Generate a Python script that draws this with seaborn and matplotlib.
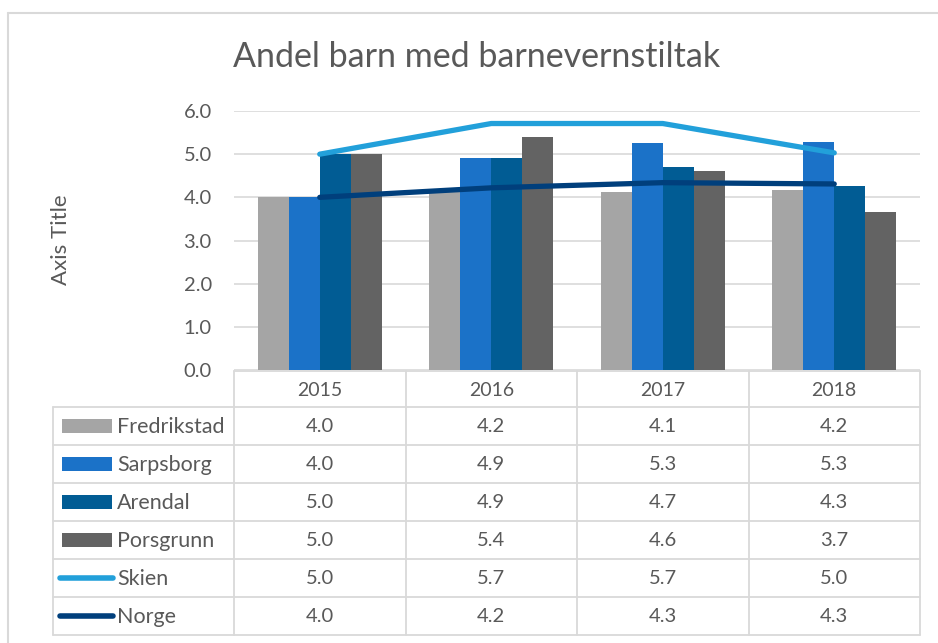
import numpy as np
import pandas as pd
import matplotlib
matplotlib.use("Agg")
import matplotlib.pyplot as plt
import seaborn as sns
from matplotlib.lines import Line2D
from matplotlib.patches import Rectangle
from matplotlib.transforms import blended_transform_factory

# ---- data ----
years = ["2015", "2016", "2017", "2018"]
bar_series = ["Fredrikstad", "Sarpsborg", "Arendal", "Porsgrunn"]
line_series = ["Skien", "Norge"]
fredrikstad = [4.0, 4.16, 4.13, 4.16]
sarpsborg = [4.0, 4.9, 5.27, 5.28]
arendal = [5.0, 4.9, 4.7, 4.26]
porsgrunn = [5.0, 5.4, 4.62, 3.66]
skien = [5.0, 5.71, 5.71, 5.03]
norge = [4.0, 4.22, 4.34, 4.31]
title = "Andel barn med barnevernstiltak"
ylabel = "Axis Title"
yticks = [0, 1, 2, 3, 4, 5, 6]

colors = {
    "Fredrikstad": "#A5A5A5",
    "Sarpsborg": "#1B72C8",
    "Arendal": "#015C94",
    "Porsgrunn": "#636363",
    "Skien": "#22A0DA",
    "Norge": "#003F7C",
}

bars_df = pd.DataFrame({
    "year": np.repeat(years, len(bar_series)),
    "series": bar_series * len(years),
    "value": [v for i in range(len(years)) for v in
              (fredrikstad[i], sarpsborg[i], arendal[i], porsgrunn[i])],
})
line_vals = {"Skien": skien, "Norge": norge}
lines_df = pd.DataFrame({
    "pos": [i for s in line_series for i in range(len(years))],
    "series": [s for s in line_series for _ in years],
    "value": [v for s in line_series for v in line_vals[s]],
})
all_vals = {"Fredrikstad": fredrikstad, "Sarpsborg": sarpsborg,
            "Arendal": arendal, "Porsgrunn": porsgrunn,
            "Skien": skien, "Norge": norge}
row_order = bar_series + line_series

sns.set_theme(style="white")
FONT = ["Lato", "DejaVu Sans"]
plt.rcParams["font.family"] = FONT
TXT = "#595959"
GRID = "#D9D9D9"

W, H = 938, 643
fig = plt.figure(figsize=(W / 100, H / 100), dpi=100)

def fx(px):
    return px / W

def fy(py):
    return 1 - py / H

ax_left, ax_right, ax_top, ax_bot = 234, 920, 111, 370
ax = fig.add_axes([fx(ax_left), fy(ax_bot), fx(ax_right - ax_left), (ax_bot - ax_top) / H])

sns.barplot(data=bars_df, x="year", y="value", hue="series", order=years,
            hue_order=bar_series, palette=colors, width=0.725, gap=0,
            saturation=1, linewidth=0, legend=False, ax=ax, zorder=2)
sns.lineplot(data=lines_df, x="pos", y="value", hue="series", hue_order=line_series,
             palette=colors, linewidth=3.8, legend=False, ax=ax, zorder=3,
             solid_capstyle="round", sort=False)

ax.set_xlim(-0.5, len(years) - 0.5)
ax.set_ylim(0, 6)
ax.set_yticks(yticks)
ax.set_yticklabels([f"{t:.1f}" for t in yticks], fontsize=14.5, color=TXT)
ax.set_xticks([])
ax.set_xlabel("")
ax.set_ylabel("")
ax.tick_params(axis="y", length=0, pad=16)
ax.grid(axis="y", color=GRID, linewidth=1.2, zorder=0)
ax.set_axisbelow(True)
for s in ax.spines.values():
    s.set_visible(False)

fig.text(fx(477), fy(57), title, ha="center", va="center", fontsize=24.5, color=TXT)
fig.text(fx(61), fy(240), ylabel, ha="center", va="center", rotation=90,
         fontsize=16, color=TXT)

# ---- data table ----
ov = fig.add_axes([0, 0, 1, 1], facecolor="none")
ov.set_xlim(0, W)
ov.set_ylim(H, 0)
ov.axis("off")
tr = blended_transform_factory(ax.transData, ov.transData)

# figure border (left and top)
ov.add_line(Line2D([8, 8], [13, H], color=GRID, lw=1.5))
ov.add_line(Line2D([8, W], [13, 13], color=GRID, lw=1.5))

tab_left = 53
head_top, head_bot = 371, 407
row_h = 38.0
row_edges = [head_bot + i * row_h for i in range(len(row_order) + 1)]
tab_bot = row_edges[-1]
ncol = len(years)

ov.add_line(Line2D([-0.5, ncol - 0.5], [head_top, head_top], color=GRID, lw=1.3, transform=tr))
for y in row_edges:
    ov.add_line(Line2D([tab_left, ax_left], [y, y], color=GRID, lw=1.3))
    ov.add_line(Line2D([-0.5, ncol - 0.5], [y, y], color=GRID, lw=1.3, transform=tr))
ov.add_line(Line2D([tab_left, tab_left], [head_bot, tab_bot], color=GRID, lw=1.3))
for i in range(ncol + 1):
    ov.add_line(Line2D([i - 0.5, i - 0.5], [head_top, tab_bot], color=GRID, lw=1.3, transform=tr))

for i, yr in enumerate(years):
    ov.text(i, (head_top + head_bot) / 2 + 1, yr, transform=tr, ha="center", va="center",
            fontsize=14, color=TXT)

for r, name in enumerate(row_order):
    yc = (row_edges[r] + row_edges[r + 1]) / 2
    if name in bar_series:
        ov.add_patch(Rectangle((62, yc - 7), 50, 14, color=colors[name], lw=0))
    else:
        ov.add_line(Line2D([60, 113], [yc, yc], color=colors[name], lw=4,
                           solid_capstyle="round"))
    ov.text(117, yc + 1, name, ha="left", va="center", fontsize=15.5, color=TXT)
    for i in range(ncol):
        ov.text(i, yc + 1, f"{all_vals[name][i]:.1f}", transform=tr, ha="center",
                va="center", fontsize=14.5, color=TXT)

fig.savefig("out.png", dpi=100)
